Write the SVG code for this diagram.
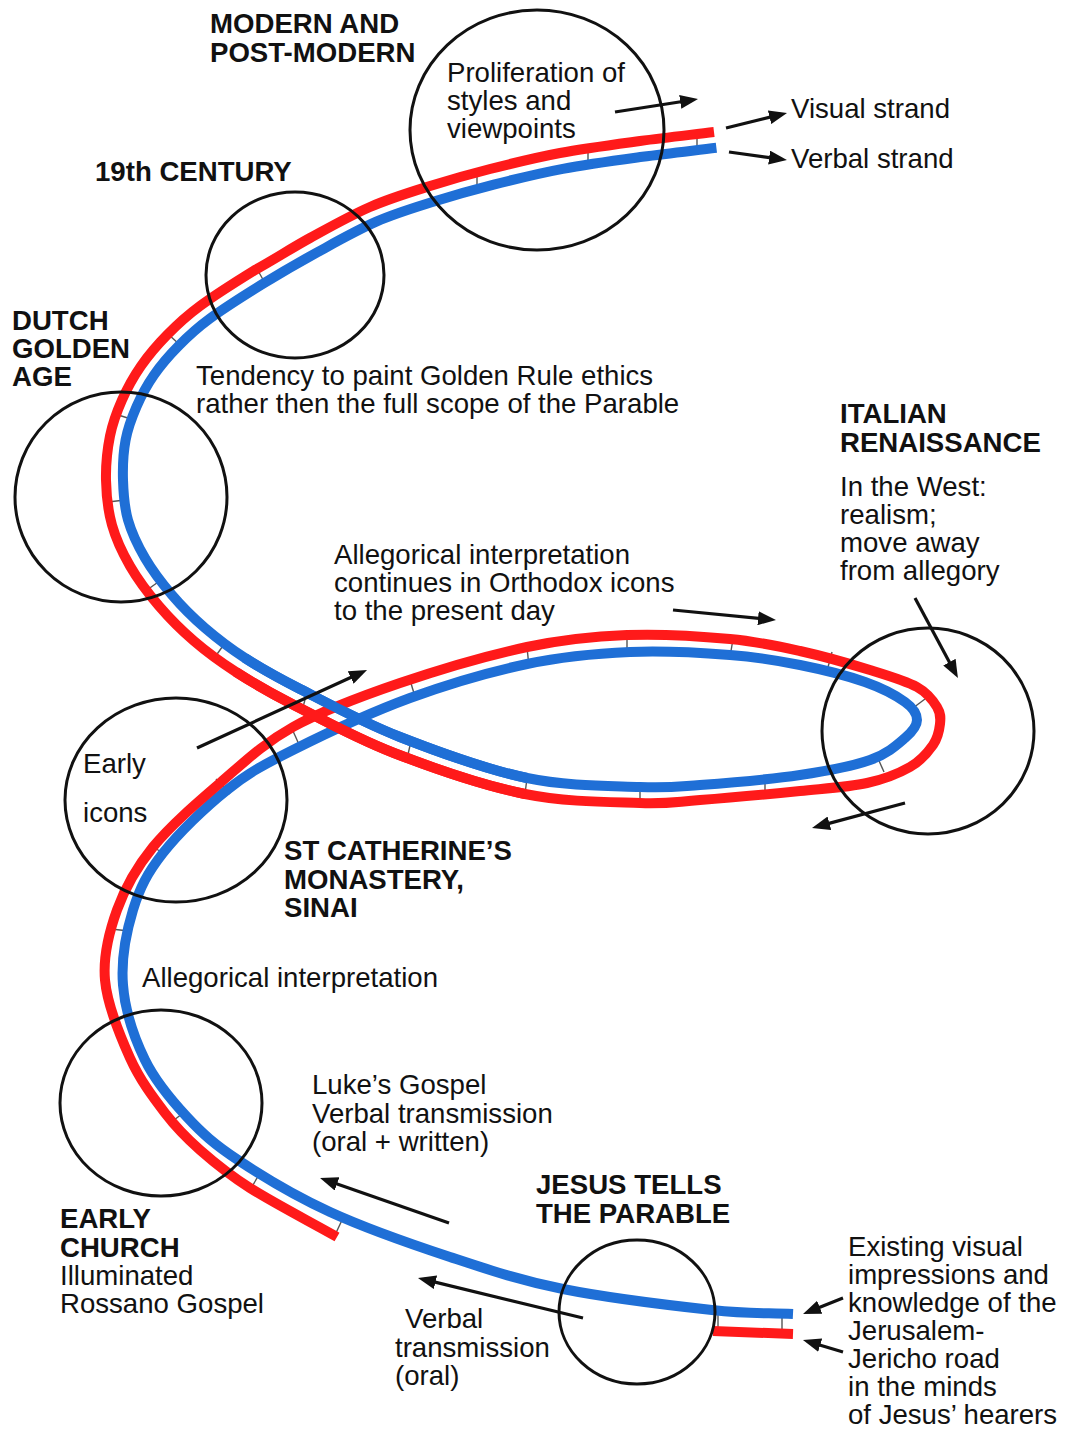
<svg xmlns="http://www.w3.org/2000/svg" width="1065" height="1430" viewBox="0 0 1065 1430">
  <style>
    text { font-family: "Liberation Sans", Arial, sans-serif; font-size: 27.6px; fill: #111; }
    .h { font-weight: bold; }
    .era { fill: none; stroke: #111; stroke-width: 3; }
    .blue { fill: none; stroke: #1f6fd6; stroke-width: 10; }
    .red { fill: none; stroke: #ff1a1a; stroke-width: 10; }
    .tick { stroke: #555; stroke-width: 1.4; }
    .arrow { fill: none; stroke: #111; stroke-width: 3.2; marker-end: url(#head); }
  </style>
  <defs>
    <marker id="head" markerUnits="userSpaceOnUse" markerWidth="18" markerHeight="14" refX="12" refY="7" orient="auto">
      <path d="M0,0 L18,7 L0,14 z" fill="#111"/>
    </marker>
  </defs>
  <rect width="1065" height="1430" fill="#fff"/>

  <!-- the two strands: verbal (blue) and visual (red) -->
  <g id="strands">
    <g id="rungs">
      <line class="tick" x1="718" y1="1311" x2="718" y2="1331"/>
      <line class="tick" x1="782" y1="1314" x2="782" y2="1334"/>
      <line class="tick" x1="343" y1="1218" x2="335" y2="1235"/>
      <line class="tick" x1="260" y1="1173" x2="250" y2="1190"/>
      <line class="tick" x1="186" y1="1111" x2="170" y2="1123"/>
      <line class="tick" x1="129" y1="931" x2="111" y2="929"/>
      <line class="tick" x1="167" y1="855" x2="149" y2="845"/>
      <line class="tick" x1="230" y1="794" x2="216" y2="779"/>
      <line class="tick" x1="301" y1="749" x2="293" y2="731"/>
      <line class="tick" x1="416" y1="700" x2="410" y2="680"/>
      <line class="tick" x1="529" y1="667" x2="527" y2="647"/>
      <line class="tick" x1="627" y1="655" x2="627" y2="635"/>
      <line class="tick" x1="730" y1="657" x2="733" y2="639"/>
      <line class="tick" x1="827" y1="671" x2="832" y2="652"/>
      <line class="tick" x1="909" y1="711" x2="925" y2="699"/>
      <line class="tick" x1="876" y1="754" x2="884" y2="772"/>
      <line class="tick" x1="765" y1="781" x2="765" y2="797"/>
      <line class="tick" x1="640" y1="787" x2="640" y2="803"/>
      <line class="tick" x1="527" y1="778" x2="525" y2="794"/>
      <line class="tick" x1="411" y1="741" x2="407" y2="759"/>
      <line class="tick" x1="307" y1="692" x2="302" y2="711"/>
      <line class="tick" x1="225" y1="643" x2="215" y2="657"/>
      <line class="tick" x1="161" y1="580" x2="147" y2="590"/>
      <line class="tick" x1="125" y1="500" x2="108" y2="502"/>
      <line class="tick" x1="131" y1="419" x2="115" y2="414"/>
      <line class="tick" x1="180" y1="345" x2="168" y2="334"/>
      <line class="tick" x1="265" y1="283" x2="257" y2="269"/>
      <line class="tick" x1="477" y1="188" x2="477" y2="173"/>
      <line class="tick" x1="588" y1="165" x2="588" y2="149"/>
      <line class="tick" x1="697" y1="150" x2="697" y2="134"/>
    </g>
    <path id="verbal" class="blue" d="M793,1314 C766,1312.7 750.3,1314.2 712,1310 C673.7,1305.8 606.7,1297.8 563,1289 C519.3,1280.2 488.8,1269.8 450,1257 C411.2,1244.2 365.3,1228.2 330,1212 C294.7,1195.8 261.8,1175.8 238,1160 C214.2,1144.2 202.5,1133.7 187,1117 C171.5,1100.3 155.7,1082 145,1060 C134.3,1038 125,1010 123,985 C121,960 126.3,932 133,910 C139.7,888 147.3,873 163,853 C178.7,833 205.3,807.2 227,790 C248.7,772.8 262.5,765.3 293,750 C323.5,734.7 371,712.3 410,698 C449,683.7 490.3,671.7 527,664 C563.7,656.3 596.2,653.5 630,652 C663.8,650.5 701.7,652.8 730,655 C758.3,657.2 777.5,660.5 800,665 C822.5,669.5 847.5,675.8 865,682 C882.5,688.2 896.3,695.7 905,702 C913.7,708.3 917,714 917,720 C917,726 912.8,731.3 905,738 C897.2,744.7 887.5,753.8 870,760 C852.5,766.2 828.3,770.8 800,775 C771.7,779.2 726.7,783 700,785 C673.3,787 668.8,788.2 640,787 C611.2,785.8 567,786.3 527,778 C487,769.7 437.8,751.8 400,737 C362.2,722.2 325.8,702.2 300,689 C274.2,675.8 260.8,668.2 245,658 C229.2,647.8 217.2,638.5 205,628 C192.8,617.5 182,606.7 172,595 C162,583.3 152.3,570.5 145,558 C137.7,545.5 131.7,533 128,520 C124.3,507 123.4,493.3 123,480 C122.6,466.7 123.3,452.3 125.6,440 C127.9,427.7 131.9,417.3 136.6,406.5 C141.3,395.7 147,385.1 154,375 C161,364.9 169.2,355.4 178.5,346 C187.8,336.6 195.4,329.2 209.6,318.8 C223.8,308.4 245.4,294.7 263.4,283.6 C281.4,272.5 298.8,262.4 317.6,252.1 C336.4,241.8 356.8,230.2 376.3,221.7 C395.8,213.2 415.2,207.5 434.8,201.3 C454.4,195.1 472.4,190 493.7,184.6 C515,179.2 538,173.4 562.8,168.8 C587.6,164.2 616.8,160.3 642.4,156.8 C668,153.3 691.7,150.8 716.4,147.8"/>
    <path id="visual" class="red" d="M337,1237 C308,1220.7 272.8,1202.5 250,1188 C227.2,1173.5 214.2,1162.5 200,1150 C185.8,1137.5 176.7,1128.3 165,1113 C153.3,1097.7 140,1080.2 130,1058 C120,1035.8 107.2,1004.7 105,980 C102.8,955.3 109,932.2 117,910 C125,887.8 135.8,868.2 153,847 C170.2,825.8 196.7,803 220,783 C243.3,763 263,743.7 293,727 C323,710.3 361,696.3 400,683 C439,669.7 489.2,655 527,647 C564.8,639 593.2,636.3 627,635 C660.8,633.7 701.2,636.3 730,639 C758.8,641.7 776.7,645.8 800,651 C823.3,656.2 850.5,664 870,670 C889.5,676 905.8,680.8 917,687 C928.2,693.2 933.2,700.8 937,707 C940.8,713.2 940.7,717.7 940,724 C939.3,730.3 938,737.8 933,745 C928,752.2 921,760.7 910,767 C899,773.3 885.3,779 867,783 C848.7,787 827.8,788.2 800,791 C772.2,793.8 726.7,798 700,800 C673.3,802 669.2,804 640,803 C610.8,802 566,802.3 525,794 C484,785.7 432.8,768 394,753 C355.2,738 318.3,717.5 292,704 C265.7,690.5 252.3,682.5 236,672 C219.7,661.5 206.8,652 194,641 C181.2,630 169.7,618.5 159,606 C148.3,593.5 137.8,579.5 130,566 C122.2,552.5 116,539.3 112,525 C108,510.7 106.3,494.8 106,480 C105.7,465.2 107.3,449.3 110,436 C112.7,422.7 116.8,411.7 122,400 C127.2,388.3 133.5,376.8 141,366 C148.5,355.2 157.2,345 167,335 C176.8,325 185.3,316.8 200,306 C214.7,295.2 236.7,281.3 255,270 C274.2,259.5 290.8,248.5 310,238 C329.2,227.5 350,215.7 370,207 C390,198.3 410,192.3 430,186 C450,179.7 468.3,174.5 490,169 C511.7,163.5 535,157.7 560,153 C585,148.3 614.3,144.5 640,141 C665.7,137.5 689.3,135 714,132"/>
    <path id="visual-start" class="red" d="M713,1331 L793,1334"/>
    <!-- returning limb of the loop passes over the outgoing one -->
    <path class="blue" d="M527,778 C487,769.7 437.8,751.8 400,737 C362.2,722.2 325.8,702.2 300,689 C274.2,675.8 260.8,668.2 245,658"/>
    <path class="red" d="M525,794 C484,785.7 432.8,768 394,753 C355.2,738 318.3,717.5 292,704 C265.7,690.5 252.3,682.5 236,672"/>
  </g>

  <g id="modern">
    <ellipse class="era" cx="537" cy="130" rx="127" ry="120"/>
    <text class="h" x="210" y="33">MODERN AND</text>
    <text class="h" x="210" y="62">POST-MODERN</text>
    <text x="447" y="82">Proliferation of</text>
    <text x="447" y="110">styles and</text>
    <text x="447" y="138">viewpoints</text>
  </g>

  <g id="strand-key">
    <text x="791" y="118">Visual strand</text>
    <text x="791" y="168">Verbal strand</text>
  </g>

  <g id="nineteenth-century">
    <ellipse class="era" cx="295" cy="275" rx="89" ry="83"/>
    <text class="h" x="95" y="181">19th CENTURY</text>
    <text x="196" y="385">Tendency to paint Golden Rule ethics</text>
    <text x="196" y="413">rather then the full scope of the Parable</text>
  </g>

  <g id="dutch-golden-age">
    <ellipse class="era" cx="121" cy="497" rx="106" ry="105"/>
    <text class="h" x="12" y="330">DUTCH</text>
    <text class="h" x="12" y="358">GOLDEN</text>
    <text class="h" x="12" y="386">AGE</text>
  </g>

  <g id="italian-renaissance">
    <ellipse class="era" cx="928" cy="731" rx="106" ry="103"/>
    <text class="h" x="840" y="423">ITALIAN</text>
    <text class="h" x="840" y="452">RENAISSANCE</text>
    <text x="840" y="496">In the West:</text>
    <text x="840" y="524">realism;</text>
    <text x="840" y="552">move away</text>
    <text x="840" y="580">from allegory</text>
  </g>

  <g id="orthodox-icons">
    <text x="334" y="564">Allegorical interpretation</text>
    <text x="334" y="592">continues in Orthodox icons</text>
    <text x="334" y="620">to the present day</text>
  </g>

  <g id="st-catherines">
    <ellipse class="era" cx="176" cy="800" rx="111" ry="102"/>
    <text x="83" y="773">Early</text>
    <text x="83" y="822">icons</text>
    <text class="h" x="284" y="860">ST CATHERINE’S</text>
    <text class="h" x="284" y="889">MONASTERY,</text>
    <text class="h" x="284" y="917">SINAI</text>
  </g>

  <g id="allegory">
    <text x="142" y="987">Allegorical interpretation</text>
  </g>

  <g id="early-church">
    <ellipse class="era" cx="161" cy="1103" rx="101" ry="93"/>
    <text class="h" x="60" y="1228">EARLY</text>
    <text class="h" x="60" y="1257">CHURCH</text>
    <text x="60" y="1285">Illuminated</text>
    <text x="60" y="1313">Rossano Gospel</text>
  </g>

  <g id="lukes-gospel">
    <text x="312" y="1094">Luke’s Gospel</text>
    <text x="312" y="1123">Verbal transmission</text>
    <text x="312" y="1151">(oral + written)</text>
  </g>

  <g id="jesus-tells">
    <ellipse class="era" cx="637" cy="1312" rx="78" ry="72"/>
    <text class="h" x="536" y="1194">JESUS TELLS</text>
    <text class="h" x="536" y="1223">THE PARABLE</text>
    <text x="405" y="1328">Verbal</text>
    <text x="395" y="1357">transmission</text>
    <text x="395" y="1385">(oral)</text>
  </g>

  <g id="existing-impressions">
    <text x="848" y="1256">Existing visual</text>
    <text x="848" y="1284">impressions and</text>
    <text x="848" y="1312">knowledge of the</text>
    <text x="848" y="1340">Jerusalem-</text>
    <text x="848" y="1368">Jericho road</text>
    <text x="848" y="1396">in the minds</text>
    <text x="848" y="1424">of Jesus’ hearers</text>
  </g>

  <g id="connectors">
    <line class="arrow" x1="615" y1="112" x2="692.1" y2="100"/>
    <line class="arrow" x1="726" y1="128" x2="781.2" y2="114.4"/>
    <line class="arrow" x1="729" y1="152" x2="781" y2="159.2"/>
    <line class="arrow" x1="673" y1="610" x2="770" y2="619.4"/>
    <line class="arrow" x1="197" y1="748" x2="361.6" y2="672.5"/>
    <line class="arrow" x1="915" y1="598" x2="955.1" y2="672.7"/>
    <line class="arrow" x1="905" y1="803" x2="817.8" y2="826.4"/>
    <line class="arrow" x1="449" y1="1223" x2="325.7" y2="1180"/>
    <line class="arrow" x1="583" y1="1318" x2="423.8" y2="1279.4"/>
    <line class="arrow" x1="843" y1="1298" x2="808.6" y2="1311.7"/>
    <line class="arrow" x1="843" y1="1352" x2="808.7" y2="1341.7"/>
  </g>
</svg>
